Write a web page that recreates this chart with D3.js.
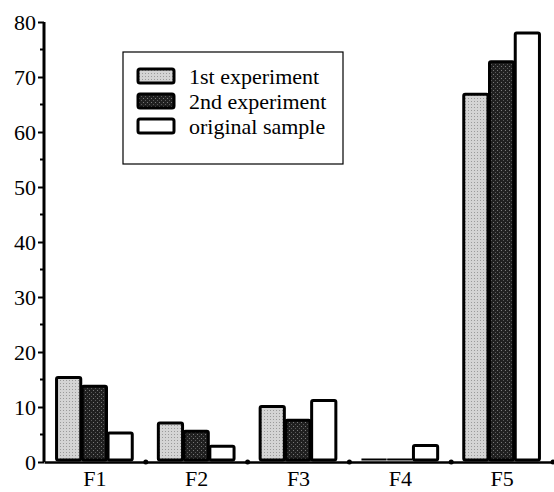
<!DOCTYPE html>
<html>
<head>
<meta charset="utf-8">
<script src="https://cdn.jsdelivr.net/npm/d3@7"></script>
<style>
  body { margin: 0; background: #fff; }
  text { font-family: "Liberation Serif", "Times New Roman", serif; fill: #000; }
</style>
</head>
<body>
<div id="vis"></div>
<script>
const categories = ["F1", "F2", "F3", "F4", "F5"];
const seriesNames = ["1st experiment", "2nd experiment", "original sample"];
const firstExp = [15.2, 6.9, 9.9, 0, 66.7];
const secondExp = [13.6, 5.4, 7.4, 0, 72.6];
const original = [5.1, 2.7, 11, 2.8, 77.8];
const yTicks = [0, 10, 20, 30, 40, 50, 60, 70, 80];

const margin = {top: 22, right: 1, bottom: 30, left: 44};
const width = 554 - margin.left - margin.right,
      height = 492 - margin.top - margin.bottom;

const svg = d3.select("#vis").append("svg")
  .attr("width", 554)
  .attr("height", 492);

// stipple patterns for the greyscale fills
const defs = svg.append("defs");
const light = defs.append("pattern").attr("id", "light")
  .attr("width", 3).attr("height", 3).attr("patternUnits", "userSpaceOnUse");
light.append("rect").attr("width", 3).attr("height", 3).attr("fill", "#d4d4d4");
light.append("rect").attr("x", 1).attr("y", 1).attr("width", 1).attr("height", 1).attr("fill", "#9a9a9a");
const dark = defs.append("pattern").attr("id", "dark")
  .attr("width", 4).attr("height", 4).attr("patternUnits", "userSpaceOnUse");
dark.append("rect").attr("width", 4).attr("height", 4).attr("fill", "#202020");
dark.append("rect").attr("x", 1).attr("y", 0).attr("width", 1).attr("height", 1).attr("fill", "#7a7a7a");
dark.append("rect").attr("x", 3).attr("y", 2).attr("width", 1).attr("height", 1).attr("fill", "#5a5a5a");

const fills = ["url(#light)", "url(#dark)", "#fff"];
const series = [firstExp, secondExp, original];

const g = svg.append("g").attr("transform", `translate(${margin.left},${margin.top})`);

const x = d3.scaleBand().domain(categories).range([0, width]).paddingInner(0).paddingOuter(0);
const x1 = d3.scaleBand().domain(d3.range(series.length)).range([11, x.bandwidth() - 12]).padding(0.06);
const y = d3.scaleLinear().domain([0, 80]).range([height, 0]);

// bars (zero values still leave a thin line just above the axis)
categories.forEach(function(c, i){
  series.forEach(function(s, k){
    const v = s[i];
    const h = height - y(v);
    g.append("rect")
      .attr("x", x(c) + x1(k))
      .attr("y", v > 0 ? y(v) - 1 : height - 3)
      .attr("width", x1.bandwidth())
      .attr("height", v > 0 ? h - 1 : 1)
      .attr("rx", v > 0 ? 1.5 : 0)
      .attr("fill", fills[k])
      .attr("stroke", "#000")
      .attr("stroke-width", v > 0 ? 3 : 1);
  });
});

// y axis
const yAxis = g.append("g")
  .call(d3.axisLeft(y).tickValues(yTicks).tickSize(6).tickPadding(2));
yAxis.attr("font-family", null).attr("font-size", null);
yAxis.select(".domain").attr("stroke-width", 3).attr("d", `M0,${height}V0`);
yAxis.selectAll(".tick line").attr("stroke-width", 2);
yAxis.selectAll("text").style("font-size", "22px");
g.append("g").selectAll("line")
  .data(d3.range(5, 80, 10))
  .join("line")
  .attr("x1", -4).attr("x2", 0)
  .attr("y1", d => y(d)).attr("y2", d => y(d))
  .attr("stroke", "#000").attr("stroke-width", 2);

// x axis
const xAxis = g.append("g").attr("transform", `translate(0,${height})`)
  .call(d3.axisBottom(x).tickSize(0).tickPadding(8));
xAxis.attr("font-family", null).attr("font-size", null);
xAxis.select(".domain").attr("stroke-width", 2.5);
xAxis.selectAll("text").style("font-size", "22px");
g.append("g").selectAll("circle")
  .data(categories.slice(1).concat(["end"]))
  .join("circle")
  .attr("cx", d => d === "end" ? width : x(d))
  .attr("cy", height)
  .attr("r", 2.5)
  .attr("fill", "#000");

// legend
const legend = svg.append("g").attr("transform", "translate(123,52)");
legend.append("rect")
  .attr("width", 220).attr("height", 112)
  .attr("fill", "#fff").attr("stroke", "#000").attr("stroke-width", 1.2);
seriesNames.forEach(function(name, k){
  const row = legend.append("g").attr("transform", `translate(15,${17 + k * 25})`);
  row.append("rect")
    .attr("width", 36).attr("height", 14).attr("rx", 2)
    .attr("fill", fills[k]).attr("stroke", "#000").attr("stroke-width", 3);
  row.append("text")
    .attr("x", 51).attr("y", 7).attr("dy", "0.35em")
    .style("font-size", "22px")
    .text(name);
});
</script>
</body>
</html>
